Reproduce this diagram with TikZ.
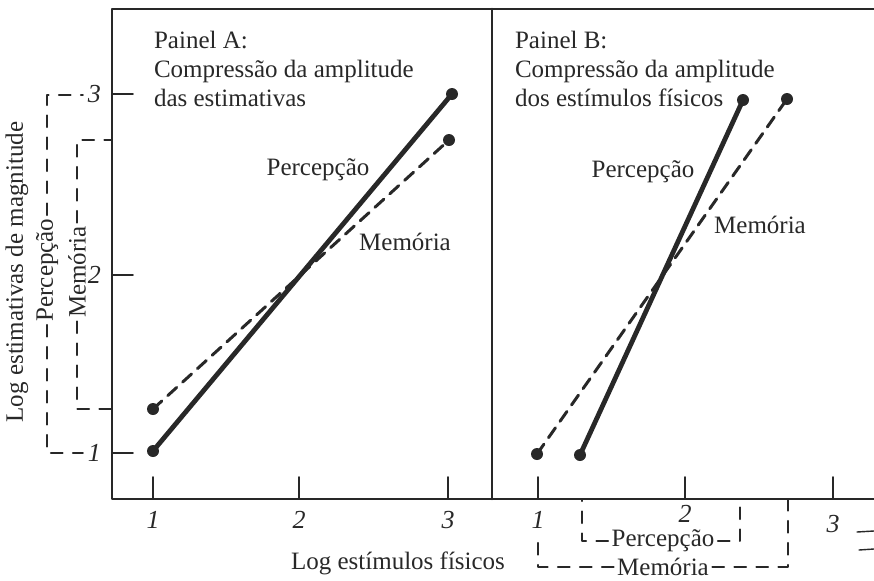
\documentclass[tikz,border=0pt]{standalone}
\usepackage{fontspec}
\setmainfont{Liberation Serif}
\definecolor{ink}{RGB}{40,40,40}
\begin{document}
\begin{tikzpicture}[x=0.5pt, y=-0.5pt, font=\fontsize{12.5}{14.5}\selectfont, line join=round, line cap=round, color=ink,
 frame/.style={line width=1.3pt},
 perc/.style={line width=2.4pt},
 mem/.style={line width=1.5pt, dash pattern=on 6pt off 4pt},
 brk/.style={line width=0.9pt, dash pattern=on 6pt off 5pt},
 lbl/.style={inner sep=1.5pt},
 num/.style={font=\fontsize{13}{15}\selectfont\itshape}]
 \def\xl{112} \def\xm{492} \def\xr{874}
 \def\yt{9} \def\yb{499}
 \useasboundingbox (0,0) rectangle (874,580);
 % frame
 \draw[frame] (\xr,\yt)--(\xl,\yt)--(\xl,\yb)--(\xr,\yb);
 \draw[frame] (\xm,\yt)--(\xm,\yb);
 % ticks
 \foreach \y/\t in {94/3,275/2,453/1}{
  \draw[line width=0.8pt] (\xl,\y)--(133,\y);
  \node[num, anchor=east] (yl\t) at (108,\y) {\t};}
 \foreach \x/\t/\n/\yy in {153/1/a1/520,299/2/a2/520,448/3/a3/520,538/1/b1/520,685/2/b2/514,833/3/b3/524}{
  \draw[line width=0.8pt] (\x,\yb)--(\x,477);
  \node[num] (xl\n) at (\x,\yy) {\t};}
 \draw[line width=0.7pt] (857,532)--(874,531) (859,550)--(874,549);
 % axis titles
 \node[rotate=90] (ytitle) at (17,272) {Log estimativas de magnitude};
 \node (xtitle) at (398,563) {Log est\'imulos f\'isicos};
 % brackets, y axis
 \node[lbl, rotate=90] (percY) at (47,270) {Percepção};
 \node[lbl, rotate=90] (memY) at (77,272) {Memória};
 \draw[brk] (percY.east)--(47,95)--(83,95) (percY.west)--(47,453)--(83,453);
 \draw[brk] (memY.east)--(77,140)--(\xl,140) (memY.west)--(77,409)--(\xl,409);
 % brackets, x axis
 \node[lbl] (percX) at (663,541) {Percepção};
 \node[lbl] (memX) at (663,567) {Memória};
 \draw[brk] (percX.west)--(582,541)--(582,\yb) (percX.east)--(740,541)--(740,\yb);
 \draw[brk] (memX.west)--(538,567)--(538,538) (memX.east)--(788,567)--(788,\yb);
 % panel titles
 \node[anchor=north west, align=left] (titA) at (147,24) {Painel A:\\Compressão da amplitude\\das estimativas};
 \node[anchor=north west, align=left] (titB) at (508,24) {Painel B:\\Compressão da amplitude\\dos estímulos físicos};
 % data
 \coordinate (ap1) at (153,451); \coordinate (ap3) at (452,94);
 \coordinate (am1) at (153,409); \coordinate (am3) at (449,140);
 \coordinate (bp1) at (580,455); \coordinate (bp3) at (743,100);
 \coordinate (bm1) at (537,454); \coordinate (bm3) at (787,99);
 \draw[perc] (ap1)--(ap3);
 \draw[mem] (am1)--(am3);
 \draw[perc] (bp1)--(bp3);
 \draw[mem] (bm1)--(bm3);
 \foreach \c in {ap1,ap3,am1,am3,bp1,bp3,bm1,bm3} \fill (\c) circle (3pt);
 \node (pA) at (318,170) {Percepção};
 \node (mA) at (405,242) {Memória};
 \node (pB) at (643,172) {Percepção};
 \node (mB) at (760,225) {Memória};
\end{tikzpicture}
\end{document}
